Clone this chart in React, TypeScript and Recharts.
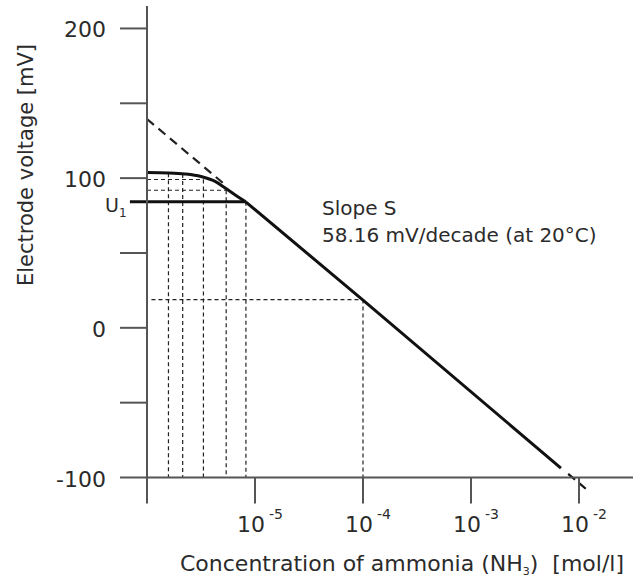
import React from "react";
import { LineChart, Line, XAxis, YAxis, ReferenceLine } from "recharts";

// concentrations in mol/l, voltages in mV
// bent part at low concentration
const curveConc = [1e-6, 1.58e-6, 2.24e-6, 3.16e-6, 4.27e-6, 5.25e-6, 6.61e-6, 8.2e-6];
const curveVolt = [103.8, 103.5, 102.8, 101.1, 97.8, 93.6, 88.6, 84.2];
// linear part with slope S
const slopeConc = [8.2e-6, 1e-4, 6.8e-3];
const slopeVolt = [84.2, 18.5, -93.7];

// ideal line (dashed extrapolation)
const idealConc = [1e-6, 5.3e-6];
const idealVolt = [139.5, 95.5];
const idealTailConc = [7.94e-3, 1.245e-2];
const idealTailVolt = [-97.6, -109.5];

const u1Volt = 84.2;
const u1Conc = [6.95e-7, 8.2e-6];

// dashed guide lines
const guideHoriz = [
  { y: 99.1, from: 1e-6, to: 3.33e-6 },
  { y: 91.9, from: 1e-6, to: 5.41e-6 },
  { y: 18.9, from: 1.1e-6, to: 1e-4 },
];
const guideVert = [
  { x: 1.58e-6, top: 103.2 },
  { x: 2.14e-6, top: 102.7 },
  { x: 3.33e-6, top: 99.1 },
  { x: 5.41e-6, top: 91.9 },
  { x: 8.24e-6, top: 84.2 },
  { x: 1e-4, top: 18.9 },
];

const xTicks = [1e-6, 1e-5, 1e-4, 1e-3, 1e-2];
const yTicks = [-100, -50, 0, 50, 100, 150, 200];
const yTickLabels = [-100, 0, 100, 200];

const curveData = curveConc.map((c, i) => ({ c, v: curveVolt[i] }));
const slopeData = slopeConc.map((c, i) => ({ c, v: slopeVolt[i] }));
const idealData = idealConc.map((c, i) => ({ c, v: idealVolt[i] }));

const FONT = "DejaVu Sans";
const TXT = "#2b2b2b";
const AX = "#555";

function XTick(props: any) {
  const { x, y, payload } = props;
  const exp = Math.round(Math.log10(payload.value));
  if (exp === -6) return null;
  return (
    <text x={x - 18} y={y + 26} fontSize={22} fontFamily={FONT} fill={TXT}>
      10
      <tspan dx={4} dy={-13} fontSize={14}>
        {exp}
      </tspan>
    </text>
  );
}

function YTick(props: any) {
  const { x, y, payload } = props;
  if (!yTickLabels.includes(payload.value)) return null;
  return (
    <text x={x} y={y} dy={9} textAnchor="end" fontSize={22} fontFamily={FONT} fill={TXT}>
      {payload.value}
    </text>
  );
}

export default function App() {
  return (
    <div style={{ position: "absolute", left: 0, top: 0, width: 644, height: 579, background: "#fff" }}>
      <LineChart width={644} height={579} margin={{ top: 6, right: 11, bottom: 0, left: 0 }}>
        <XAxis
          dataKey="c"
          type="number"
          scale="log"
          domain={[1e-6, Math.pow(10, -1.5)]}
          allowDataOverflow
          ticks={xTicks}
          height={101.5}
          tickSize={26}
          tickMargin={2}
          tick={<XTick />}
          axisLine={{ stroke: AX, strokeWidth: 2 }}
          tickLine={{ stroke: AX, strokeWidth: 2 }}
        />
        <YAxis
          type="number"
          domain={[-100, 215]}
          allowDataOverflow
          ticks={yTicks}
          width={147}
          tickSize={27}
          tickMargin={14}
          tick={<YTick />}
          axisLine={{ stroke: AX, strokeWidth: 2 }}
          tickLine={{ stroke: AX, strokeWidth: 2 }}
        />
        {guideHoriz.map((g, i) => (
          <ReferenceLine
            key={"h" + i}
            segment={[{ x: g.from, y: g.y }, { x: g.to, y: g.y }]}
            stroke="#222"
            strokeWidth={1.2}
            strokeDasharray="4 3"
            ifOverflow="visible"
          />
        ))}
        {guideVert.map((g, i) => (
          <ReferenceLine
            key={"v" + i}
            segment={[{ x: g.x, y: g.top }, { x: g.x, y: -100 }]}
            stroke="#222"
            strokeWidth={1.2}
            strokeDasharray="4 3"
            ifOverflow="visible"
          />
        ))}
        <ReferenceLine
          segment={[{ x: u1Conc[0], y: u1Volt }, { x: u1Conc[1], y: u1Volt }]}
          stroke="#111"
          strokeWidth={3}
          ifOverflow="visible"
        />
        <ReferenceLine
          segment={[{ x: idealTailConc[0], y: idealTailVolt[0] }, { x: idealTailConc[1], y: idealTailVolt[1] }]}
          stroke="#111"
          strokeWidth={2.2}
          strokeDasharray="9 5"
          ifOverflow="visible"
        />
        <Line
          data={idealData}
          dataKey="v"
          type="linear"
          stroke="#222"
          strokeWidth={2.2}
          strokeDasharray="9 6"
          dot={false}
          isAnimationActive={false}
        />
        <Line
          data={curveData}
          dataKey="v"
          type="monotone"
          stroke="#111"
          strokeWidth={3}
          dot={false}
          isAnimationActive={false}
        />
        <Line
          data={slopeData}
          dataKey="v"
          type="linear"
          stroke="#111"
          strokeWidth={3}
          dot={false}
          isAnimationActive={false}
        />
      </LineChart>
      <svg
        width={644}
        height={579}
        style={{ position: "absolute", left: 0, top: 0, pointerEvents: "none" }}
      >
        <text
          x={33}
          y={165}
          transform="rotate(-90 33 165)"
          textAnchor="middle"
          fontSize={21}
          fontFamily={FONT}
          fill={TXT}
        >
          Electrode voltage [mV]
        </text>
        <text x={180} y={571} fontSize={22} fontFamily={FONT} fill={TXT}>
          Concentration of ammonia (NH
          <tspan fontSize={11} dy={4}>3</tspan>
          <tspan dy={-4}>)</tspan>
          <tspan dx={14}>[mol/l]</tspan>
        </text>
        <text x={322} y={215} fontSize={20} fontFamily={FONT} fill={TXT}>
          Slope S
        </text>
        <text x={322} y={242} fontSize={20} fontFamily={FONT} fill={TXT}>
          58.16 mV/decade (at 20°C)
        </text>
        <text x={105} y={211.5} fontSize={19} fontFamily={FONT} fill={TXT}>
          U<tspan fontSize={12} dy={5}>1</tspan>
        </text>
      </svg>
    </div>
  );
}
